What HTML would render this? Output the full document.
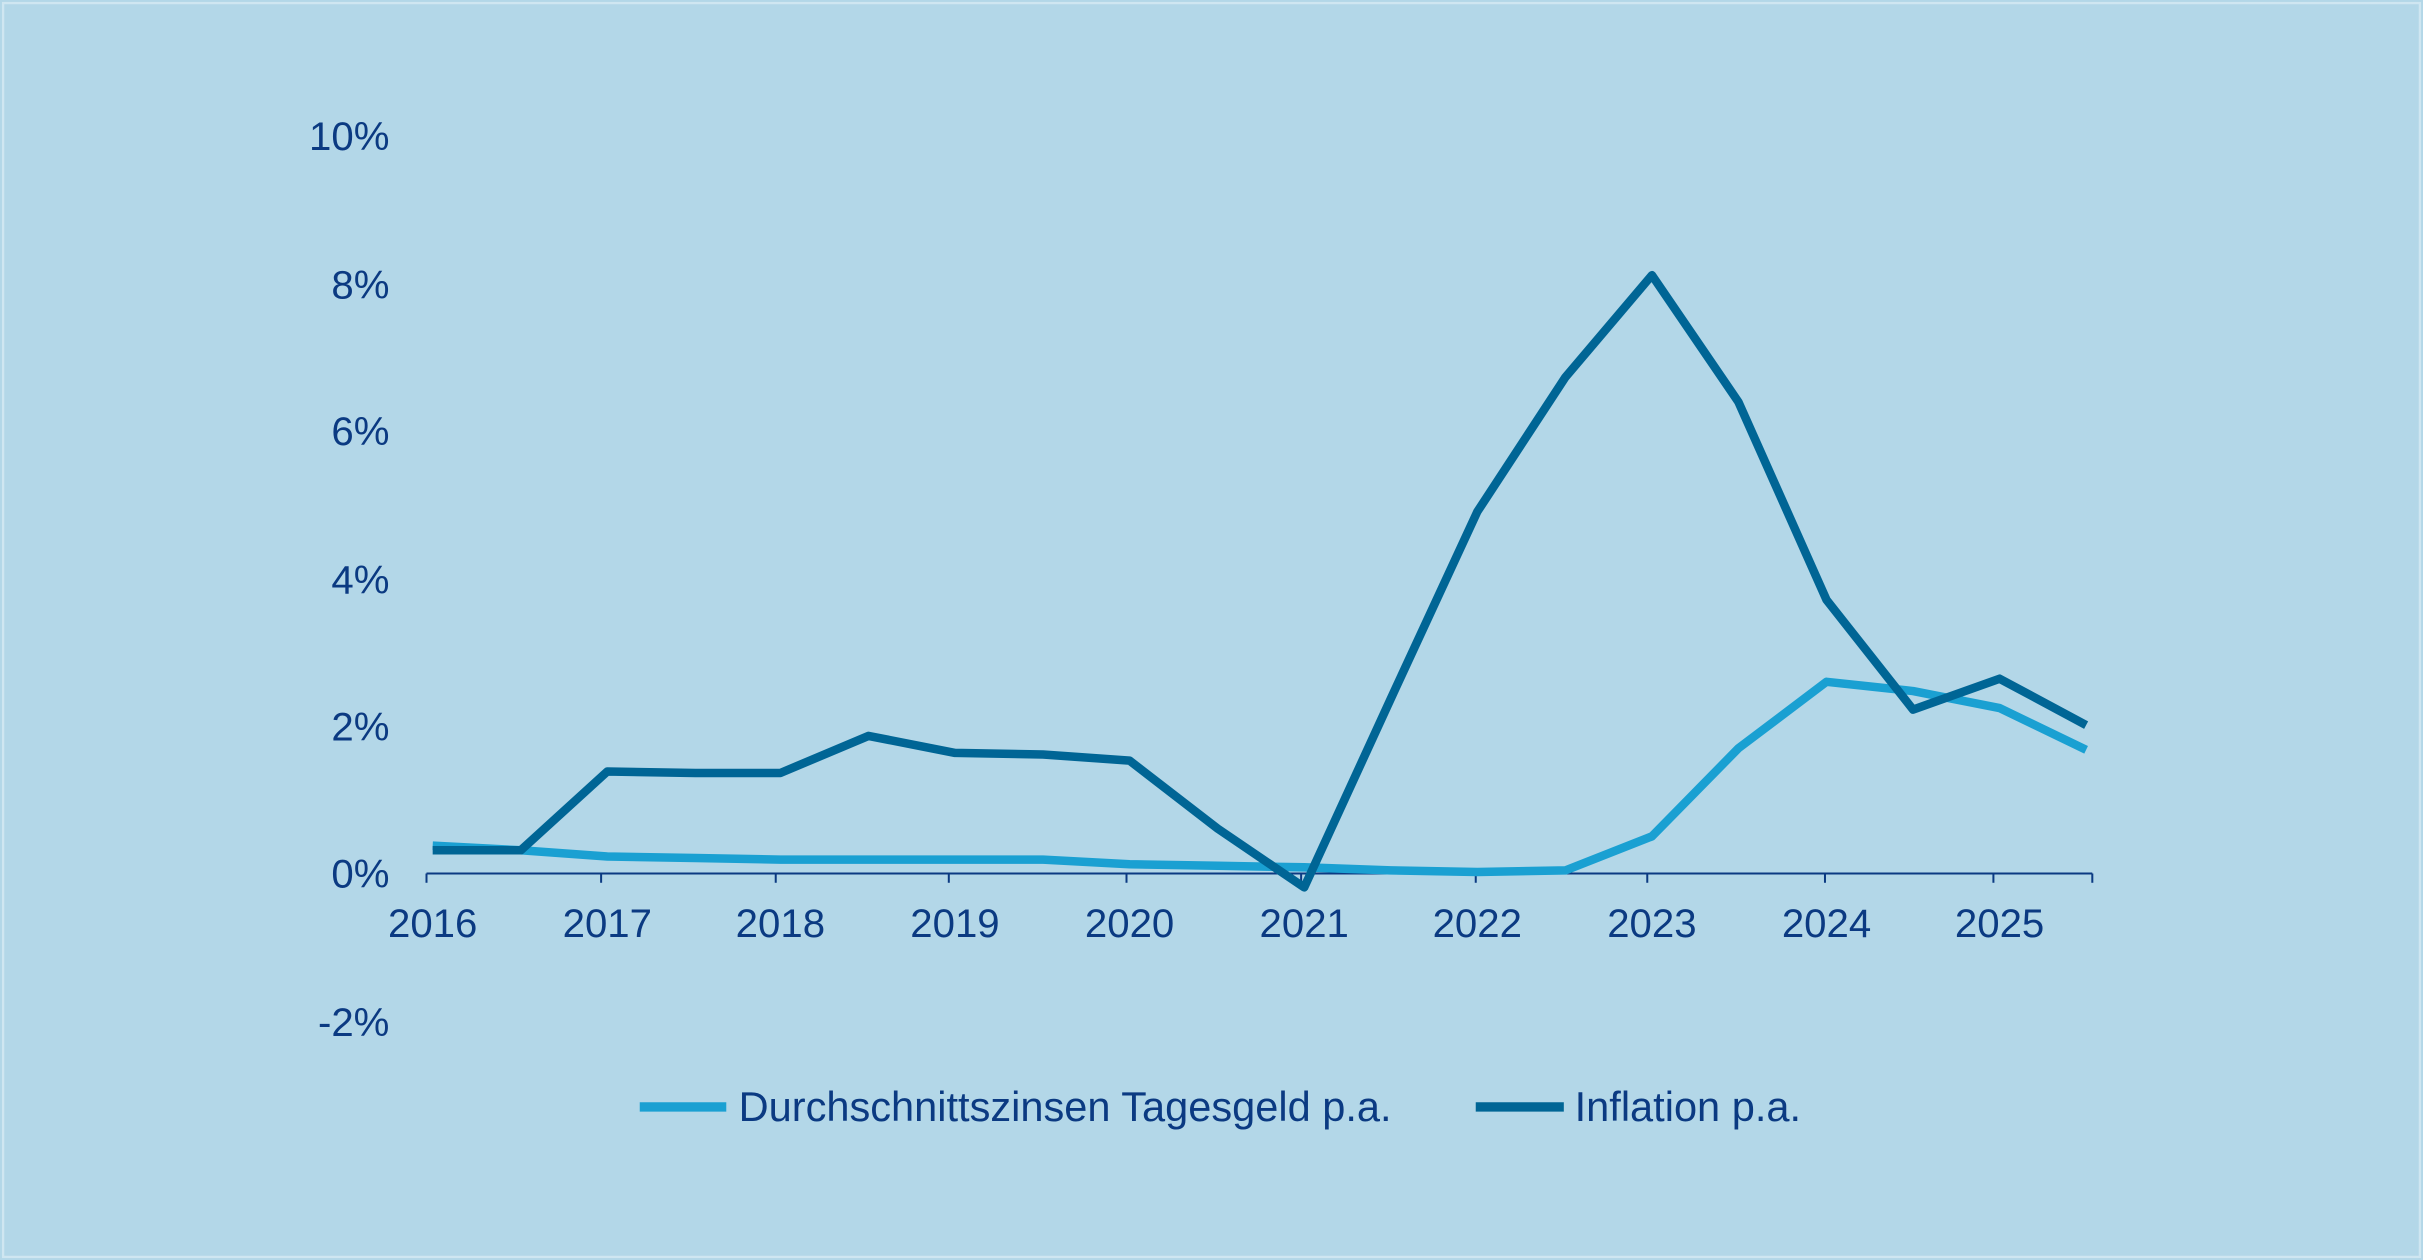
<!DOCTYPE html>
<html><head><meta charset="utf-8"><style>
html,body{margin:0;padding:0;background:#b3d7e8;}
svg{display:block}
text{font-family:"Liberation Sans",Arial,sans-serif;fill:#0b3a82;font-size:26px}
.lg{font-size:26.9px}
</style></head><body>
<svg width="2423" height="1260" viewBox="0 0 1568 815" preserveAspectRatio="none">
<rect x="0" y="0" width="1568" height="815" fill="#b3d7e8"/>
<rect x="2" y="2" width="1564" height="811" fill="none" stroke="#cfe6f1" stroke-width="1.5"/>
<g text-anchor="end">
<text x="252" y="97">10%</text>
<text x="252" y="193">8%</text>
<text x="252" y="288">6%</text>
<text x="252" y="384">4%</text>
<text x="252" y="479">2%</text>
<text x="252" y="574">0%</text>
<text x="252" y="670">-2%</text>
</g>
<line x1="276" y1="565" x2="1354" y2="565" stroke="#0b3a82" stroke-width="1.3"/>
<g stroke="#0b3a82" stroke-width="1.3">
<line x1="276" y1="565" x2="276" y2="571"/><line x1="389" y1="565" x2="389" y2="571"/><line x1="502" y1="565" x2="502" y2="571"/><line x1="614" y1="565" x2="614" y2="571"/><line x1="729" y1="565" x2="729" y2="571"/><line x1="842" y1="565" x2="842" y2="571"/><line x1="955" y1="565" x2="955" y2="571"/><line x1="1066" y1="565" x2="1066" y2="571"/><line x1="1181" y1="565" x2="1181" y2="571"/><line x1="1290" y1="565" x2="1290" y2="571"/><line x1="1354" y1="565" x2="1354" y2="571"/>
</g>
<g text-anchor="middle">
<text x="280" y="606">2016</text><text x="393" y="606">2017</text><text x="505" y="606">2018</text><text x="618" y="606">2019</text><text x="731" y="606">2020</text><text x="844" y="606">2021</text><text x="956" y="606">2022</text><text x="1069" y="606">2023</text><text x="1182" y="606">2024</text><text x="1294" y="606">2025</text>
</g>
<polyline fill="none" stroke="#1aa0d2" stroke-width="5.5" stroke-linejoin="round" points="280,547 337,550 393,554 450,555 505,556 562,556 618,556 675,556 731,559 788,560 844,561 900,563 956,564 1013,563 1069,541 1125,484 1182,441 1238,447 1294,458 1350,485"/>
<polyline fill="none" stroke="#006595" stroke-width="5.5" stroke-linejoin="round" points="280,550 337,550 393,499 450,500 505,500 562,476 618,487 675,488 731,492 788,536 844,574 900,452 956,331 1013,244 1069,178 1125,260 1182,388 1238,459 1294,439 1350,469"/>
<line x1="414" y1="716" x2="470" y2="716" stroke="#1aa0d2" stroke-width="6"/>
<text class="lg" x="478" y="725">Durchschnittszinsen Tagesgeld p.a.</text>
<line x1="955" y1="716" x2="1012" y2="716" stroke="#006595" stroke-width="6"/>
<text class="lg" x="1019" y="725">Inflation p.a.</text>
</svg>
</body></html>
